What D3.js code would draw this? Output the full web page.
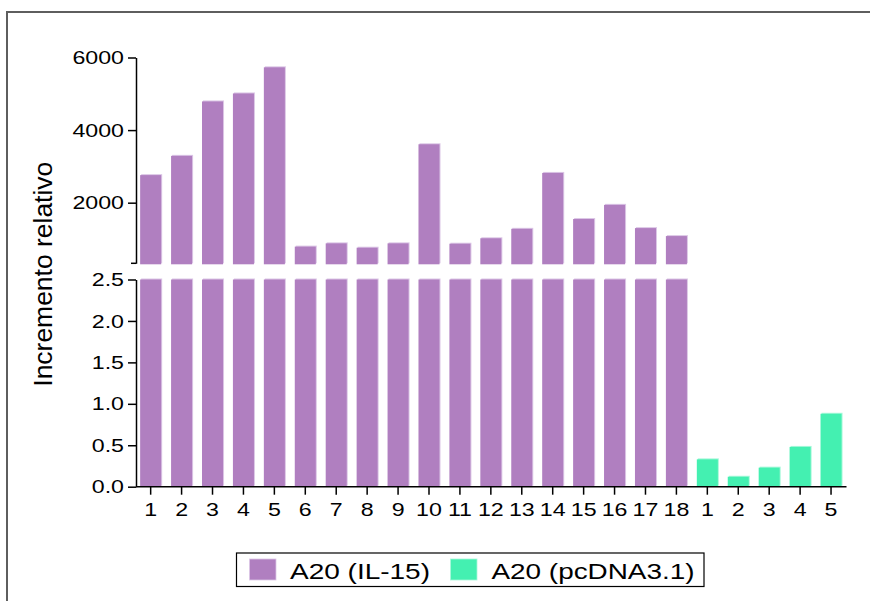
<!DOCTYPE html>
<html>
<head>
<meta charset="utf-8">
<script src="https://cdn.jsdelivr.net/npm/d3@7"></script>
<style>
  html, body { margin: 0; padding: 0; background: #fff; }
  svg { display: block; font-family: "Liberation Sans", Arial, sans-serif; }
</style>
</head>
<body>
<svg id="chart" width="870" height="601"></svg>
<script>
// Relative increase per clone, A20 (IL-15) vs A20 (pcDNA3.1)
const il15Labels = ["1","2","3","4","5","6","7","8","9","10","11","12","13","14","15","16","17","18"];
const il15Values = [2760, 3290, 4790, 5010, 5730, 790, 880, 760, 880, 3610, 870, 1020, 1280, 2820, 1550, 1940, 1300, 1080];
const pcLabels = ["1","2","3","4","5"];
const pcValues = [0.33, 0.12, 0.23, 0.48, 0.88];
const seriesNames = ["A20 (IL-15)", "A20 (pcDNA3.1)"];
const upperTicks = [2000, 4000, 6000];
const lowerTicks = [0, 0.5, 1.0, 1.5, 2.0, 2.5];

const colors = { il15: "#b07fc0", il15Edge: "#dcc7e6", pc: "#44f0b1", pcEdge: "#a8f8da" };

const rows = il15Values.map((v, i) => ({ key: "a" + i, label: il15Labels[i], value: v, group: "il15" }))
  .concat(pcValues.map((v, i) => ({ key: "b" + i, label: pcLabels[i], value: v, group: "pc" })));

const svg = d3.select("#chart");

// Outer frame (top and left edges)
svg.append("path")
  .attr("d", "M7,601V12H870")
  .attr("fill", "none")
  .attr("stroke", "#5e5e5e")
  .attr("stroke-width", 2);

const x = d3.scaleBand()
  .domain(rows.map(d => d.key))
  .range([135.2, 846.5])
  .paddingInner(0.32)
  .paddingOuter(0.16);

// Broken y axis: upper segment for large values, lower segment 0–2.5
const breakValue = 330;
const yUpper = d3.scaleLinear().domain([breakValue, 6000]).range([263.3, 57.5]);
const yLower = d3.scaleLinear().domain([0, 2.5]).range([486.7, 279.5]);
const axisX = 136;

function stretch(sel, k) {
  sel.each(function () {
    const w = this.getComputedTextLength();
    this.setAttribute("textLength", w * k);
    this.setAttribute("lengthAdjust", "spacingAndGlyphs");
  });
}

// Each bar: a pale edge rect offset up/right, then the solid fill
function drawBars(g, yScale, valueOf, bottomOf) {
  const sel = g.selectAll("g.bar").data(rows.filter(d => valueOf(d) !== null)).join("g").attr("class", "bar");
  sel.append("rect")
    .attr("x", d => x(d.key) + 1)
    .attr("y", d => yScale(valueOf(d)) - 1)
    .attr("width", x.bandwidth())
    .attr("height", d => bottomOf(d) - yScale(valueOf(d)))
    .attr("fill", d => d.group === "il15" ? colors.il15Edge : colors.pcEdge);
  sel.append("rect")
    .attr("x", d => x(d.key))
    .attr("y", d => yScale(valueOf(d)))
    .attr("width", x.bandwidth())
    .attr("height", d => bottomOf(d) - yScale(valueOf(d)))
    .attr("fill", d => d.group === "il15" ? colors.il15 : colors.pc);
}

// Lower segment (clipped at 2.5)
drawBars(svg.append("g"), yLower, d => Math.min(d.value, 2.5), () => yLower(0));
// Upper segment (only values above the break)
drawBars(svg.append("g"), yUpper, d => d.value > 2.5 ? d.value : null, () => yUpper(breakValue) + 1);

const fontTick = 19;
const k = 1.22;

// Upper y axis, with a short end tick at the break
const gU = svg.append("g").attr("transform", `translate(${axisX},0)`)
  .call(d3.axisLeft(yUpper).tickValues(upperTicks).tickFormat(d3.format("d")).tickSize(8).tickSizeOuter(0).tickPadding(4));
gU.append("line").attr("x1", -5).attr("x2", 0).attr("y1", yUpper(breakValue)).attr("y2", yUpper(breakValue));

// Lower y axis
const gL = svg.append("g").attr("transform", `translate(${axisX},0)`)
  .call(d3.axisLeft(yLower).tickValues(lowerTicks).tickFormat(d3.format(".1f")).tickSize(8).tickSizeOuter(0).tickPadding(4));

// X axis
const gX = svg.append("g").attr("transform", `translate(0,${yLower(0)})`)
  .call(d3.axisBottom(x).tickFormat(key => rows.find(r => r.key === key).label).tickSize(8).tickSizeOuter(0).tickPadding(8));

[gU, gL, gX].forEach(g => {
  g.selectAll(".domain, line").attr("stroke", "#000").attr("stroke-width", 1.5);
  g.selectAll("text").attr("font-size", fontTick).attr("font-family", "'Liberation Sans', Arial, sans-serif").attr("fill", "#000");
  stretch(g.selectAll("text"), k);
});
gX.select(".domain").attr("d", `M${axisX},0H${x.range()[1]}`);

// Y axis title
svg.append("text")
  .attr("transform", `translate(51.5,${(161.7 + 386.7) / 2}) rotate(-90)`)
  .attr("text-anchor", "middle")
  .attr("font-size", 25)
  .attr("fill", "#000")
  .text("Incremento relativo")
  .attr("textLength", 225)
  .attr("lengthAdjust", "spacingAndGlyphs");

// Legend
const legend = svg.append("g");
legend.append("rect")
  .attr("x", 236.5).attr("y", 553).attr("width", 467.5).attr("height", 33.5)
  .attr("fill", "#fff").attr("stroke", "#000").attr("stroke-width", 1.2);
const legendItems = [
  { name: seriesNames[0], fill: colors.il15, edge: colors.il15Edge, sx: 249.5, tx: 290, tw: 140 },
  { name: seriesNames[1], fill: colors.pc, edge: colors.pcEdge, sx: 450.5, tx: 491.5, tw: 203 }
];
legendItems.forEach(it => {
  legend.append("rect").attr("x", it.sx).attr("y", 559).attr("width", 26.5).attr("height", 21)
    .attr("fill", it.fill).attr("stroke", it.edge).attr("stroke-width", 0.8);
  legend.append("text").attr("x", it.tx).attr("y", 578.5).attr("font-size", 22.5).attr("fill", "#000")
    .text(it.name).attr("textLength", it.tw).attr("lengthAdjust", "spacingAndGlyphs");
});
</script>
</body>
</html>
